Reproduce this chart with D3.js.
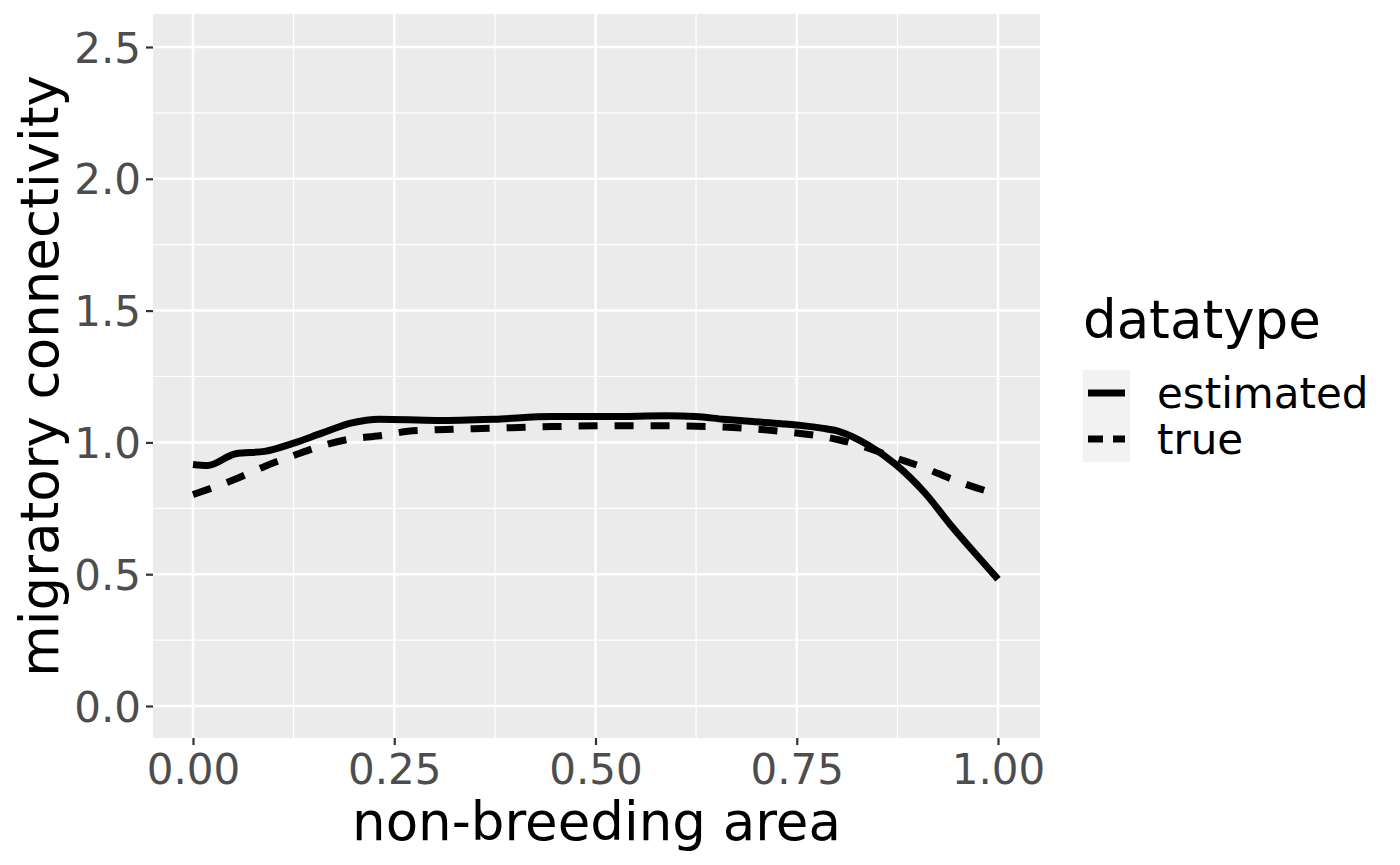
<!DOCTYPE html>
<html><head><meta charset="utf-8">
<script src="https://cdn.jsdelivr.net/npm/d3@7"></script>
<style>body{margin:0;background:#fff}text{font-family:"DejaVu Sans",sans-serif}</style>
</head><body>
<svg id="c" width="1400" height="865"></svg>
<script>
var estX = [0,0.018,0.053,0.089,0.125,0.160,0.196,0.232,0.303,0.374,0.446,0.517,0.588,0.624,0.659,0.695,0.731,0.781,0.802,0.838,0.873,0.909,0.944,0.980,1.0];
var estY = [0.916,0.912,0.957,0.966,0.997,1.035,1.073,1.088,1.083,1.088,1.098,1.098,1.101,1.098,1.088,1.079,1.071,1.054,1.042,0.991,0.916,0.809,0.676,0.550,0.481];
var trueX = [0,0.053,0.089,0.125,0.160,0.196,0.232,0.267,0.303,0.374,0.446,0.517,0.588,0.659,0.731,0.802,0.838,0.873,0.909,0.944,1.0];
var trueY = [0.802,0.861,0.909,0.950,0.987,1.013,1.025,1.042,1.048,1.054,1.060,1.063,1.063,1.058,1.042,1.010,0.979,0.941,0.903,0.859,0.802];
var xTicks = [0,0.25,0.5,0.75,1];
var yTicks = [0,0.5,1,1.5,2,2.5];
var series = [
  {name:"estimated", xs:estX, ys:estY, dash:null},
  {name:"true", xs:trueX, ys:trueY, dash:"19,17"}
];

var svg = d3.select("#c");
var L = 153, R = 1040, T = 14, B = 738;
var x = d3.scaleLinear().domain([0,1]).range([193,998]);
var y = d3.scaleLinear().domain([0,2.5]).range([706,47]);

svg.append("rect").attr("x",L).attr("y",T).attr("width",R-L).attr("height",B-T).attr("fill","#ebebeb");

var g = svg.append("g");
d3.range(0.125,1,0.25).forEach(function(v){
  g.append("line").attr("x1",x(v)).attr("x2",x(v)).attr("y1",T).attr("y2",B).attr("stroke","#fff").attr("stroke-width",1.2);
});
d3.range(0.25,2.5,0.5).forEach(function(v){
  g.append("line").attr("x1",L).attr("x2",R).attr("y1",y(v)).attr("y2",y(v)).attr("stroke","#fff").attr("stroke-width",1.2);
});
xTicks.forEach(function(v){
  g.append("line").attr("x1",x(v)).attr("x2",x(v)).attr("y1",T).attr("y2",B).attr("stroke","#fff").attr("stroke-width",2.5);
});
yTicks.forEach(function(v){
  g.append("line").attr("x1",L).attr("x2",R).attr("y1",y(v)).attr("y2",y(v)).attr("stroke","#fff").attr("stroke-width",2.5);
});

var xAxis = svg.append("g").attr("transform","translate(0,"+B+")")
  .call(d3.axisBottom(x).tickValues(xTicks).tickFormat(d3.format(".2f")).tickSize(7).tickPadding(5));
var yAxis = svg.append("g").attr("transform","translate("+L+",0)")
  .call(d3.axisLeft(y).tickValues(yTicks).tickFormat(d3.format(".1f")).tickSize(7).tickPadding(5));
[xAxis,yAxis].forEach(function(a){
  a.select(".domain").remove();
  a.selectAll("line").attr("stroke","#333").attr("stroke-width",2.2);
  a.selectAll("text").attr("fill","#4d4d4d").style("font-size","42px");
});
xAxis.selectAll("text").attr("dy","0.8em");
yAxis.selectAll("text").attr("dy","0.36em");

var line = d3.line().curve(d3.curveMonotoneX);
series.forEach(function(s){
  var pts = s.xs.map(function(v,i){ return [x(v), y(s.ys[i])]; });
  svg.append("path").attr("d",line(pts)).attr("fill","none").attr("stroke","#000")
    .attr("stroke-width",7).attr("stroke-dasharray",s.dash);
});

svg.append("text").attr("x",(L+R)/2).attr("y",840).attr("text-anchor","middle").style("font-size","53px").text("non-breeding area");
svg.append("text").attr("transform","translate(58,"+((T+B)/2)+") rotate(-90)").attr("text-anchor","middle").style("font-size","53px").text("migratory connectivity");

var lg = svg.append("g").attr("transform","translate(1083,0)");
lg.append("text").attr("x",0).attr("y",338).style("font-size","53px").text("datatype");
series.forEach(function(s,i){
  var yy = 370 + i*46;
  lg.append("rect").attr("x",0).attr("y",yy).attr("width",47).attr("height",46).attr("fill","#f2f2f2");
  lg.append("line").attr("x1",5).attr("x2",42).attr("y1",yy+23).attr("y2",yy+23).attr("stroke","#000").attr("stroke-width",7).attr("stroke-dasharray",s.dash ? "15,10" : null);
  lg.append("text").attr("x",74).attr("y",yy+23).attr("dy","0.36em").style("font-size","42px").text(s.name);
});
</script>
</body></html>
